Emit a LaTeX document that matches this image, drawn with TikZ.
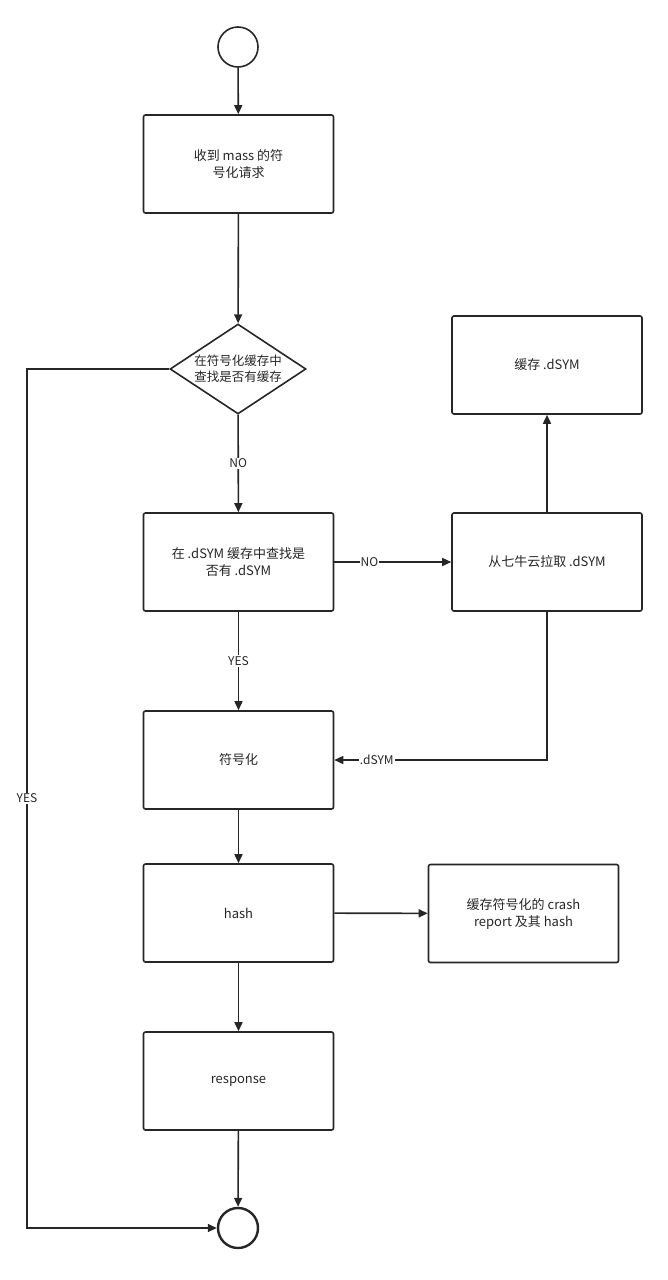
\documentclass[tikz,border=0pt]{standalone}
\usepackage{fontspec}
\setmainfont{Noto Sans CJK SC}
\usetikzlibrary{arrows.meta,shapes.geometric}
\begin{document}
\begin{tikzpicture}[x=1pt,y=-1pt,
  box/.style={draw=black!85,line width=1.6pt,rounded corners=2pt,minimum width=190pt,minimum height=98pt,align=center,font=\fontsize{13}{17}\selectfont,text=black!85},
  circ/.style={draw=black!85,line width=1.6pt,circle,minimum size=40pt,inner sep=0},
  arr/.style={draw=black!85,line width=1.6pt,-{Triangle[length=9pt,width=8pt]}},
  lab/.style={fill=white,inner sep=1pt,font=\fontsize{12}{14}\selectfont,text=black!85}]
\useasboundingbox (0,0) rectangle (668,1280);
\node[circ] (s) at (238,47) {};
\node[box] (b1) at (238.5,164) {收到 mass 的符\\号化请求};
\node[draw=black!85,line width=1.6pt,diamond,aspect=1.5,minimum width=136pt,minimum height=90pt,inner sep=0,align=center,font=\fontsize{12.5}{16}\selectfont,text=black!85] (d) at (238,369) {在符号化缓存中\\查找是否有缓存};
\node[box] (b2) at (238.5,562) {在 .dSYM 缓存中查找是\\否有 .dSYM};
\node[box] (b3) at (547,562) {从七牛云拉取 .dSYM};
\node[box] (b4) at (547,365) {缓存 .dSYM};
\node[box] (b5) at (238.5,760) {符号化};
\node[box] (b6) at (238.5,913) {hash};
\node[box] (b7) at (523.5,913.5) {缓存符号化的 crash\\report 及其 hash};
\node[box] (b8) at (238.5,1081) {response};
\node[circ,line width=2.4pt] (e) at (238,1228) {};
\draw[arr] (s) -- (b1);
\draw[arr] (b1) -- (d);
\draw[arr] (d) -- node[lab]{NO} (b2);
\draw[arr] (b2) -- node[lab,pos=0.3]{NO} (b3);
\draw[arr] (b3) -- (b4);
\draw[arr] (b2) -- node[lab]{YES} (b5);
\draw[arr] (b3.south) |- node[lab,pos=0.9]{.dSYM} (b5.east);
\draw[arr] (b5) -- (b6);
\draw[arr] (b6) -- (b7);
\draw[arr] (b6) -- (b8);
\draw[arr] (b8) -- (e);
\coordinate (c1) at (27,369);
\coordinate (c2) at (27,1228);
\draw[arr] (d.west) -- (c1) -- node[lab]{YES} (c2) -- (e);
\end{tikzpicture}
\end{document}
